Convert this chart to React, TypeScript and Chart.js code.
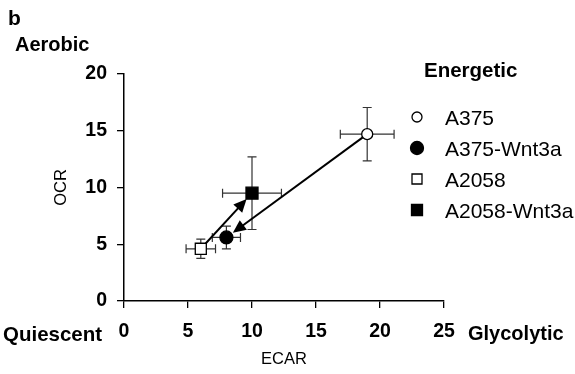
import React, { useEffect, useRef } from "react";
import { Chart, registerables } from "chart.js";

Chart.register(...registerables);

const categories = ["A375", "A375-Wnt3a", "A2058", "A2058-Wnt3a"];
const ecar = [19.0, 8.0, 6.0, 10.0];
const ocr = [14.7, 5.6, 4.6, 9.5];
const ecarErr = [2.1, 1.1, 1.15, 2.3];
const ocrErr = [2.35, 1.0, 0.85, 3.2];
const filled = [false, true, false, true];
const shapes = ["circle", "circle", "rect", "rect"];
const arrows: [number, number][] = [
  [2, 3],
  [0, 1],
];
const xTicks = [0, 5, 10, 15, 20, 25];
const yTicks = [0, 5, 10, 15, 20];
const panelLetter = "b";
const legendTitle = "Energetic";
const cornerTop = "Aerobic";
const cornerLeft = "Quiescent";
const cornerRight = "Glycolytic";
const xTitle = "ECAR";
const yTitle = "OCR";

const FONT = "'Liberation Sans', Arial, Helvetica, sans-serif";

const overlay = {
  id: "overlay",
  beforeDatasetsDraw(chart: any) {
    const ctx = chart.ctx;
    const xs = chart.scales.x;
    const ys = chart.scales.y;
    ctx.save();
    // error bars
    ctx.strokeStyle = "#333";
    ctx.lineWidth = 1.2;
    const cap = 4.5;
    for (let i = 0; i < categories.length; i++) {
      const cx = xs.getPixelForValue(ecar[i]);
      const cy = ys.getPixelForValue(ocr[i]);
      const x1 = xs.getPixelForValue(ecar[i] - ecarErr[i]);
      const x2 = xs.getPixelForValue(ecar[i] + ecarErr[i]);
      const y1 = ys.getPixelForValue(ocr[i] + ocrErr[i]);
      const y2 = ys.getPixelForValue(ocr[i] - ocrErr[i]);
      ctx.beginPath();
      ctx.moveTo(x1, cy);
      ctx.lineTo(x2, cy);
      ctx.moveTo(x1, cy - cap);
      ctx.lineTo(x1, cy + cap);
      ctx.moveTo(x2, cy - cap);
      ctx.lineTo(x2, cy + cap);
      ctx.moveTo(cx, y1);
      ctx.lineTo(cx, y2);
      ctx.moveTo(cx - cap, y1);
      ctx.lineTo(cx + cap, y1);
      ctx.moveTo(cx - cap, y2);
      ctx.lineTo(cx + cap, y2);
      ctx.stroke();
    }
    // arrows
    ctx.strokeStyle = "#000";
    ctx.fillStyle = "#000";
    ctx.lineWidth = 2;
    for (const [a, b] of arrows) {
      const ax = xs.getPixelForValue(ecar[a]);
      const ay = ys.getPixelForValue(ocr[a]);
      const bx = xs.getPixelForValue(ecar[b]);
      const by = ys.getPixelForValue(ocr[b]);
      const dx = bx - ax;
      const dy = by - ay;
      const len = Math.hypot(dx, dy);
      const ux = dx / len;
      const uy = dy / len;
      const tipX = bx - ux * 8;
      const tipY = by - uy * 8;
      const hl = 13;
      const hw = 6;
      const baseX = tipX - ux * hl;
      const baseY = tipY - uy * hl;
      ctx.beginPath();
      ctx.moveTo(ax, ay);
      ctx.lineTo(baseX + ux * 2, baseY + uy * 2);
      ctx.stroke();
      ctx.beginPath();
      ctx.moveTo(tipX, tipY);
      ctx.lineTo(baseX - uy * hw, baseY + ux * hw);
      ctx.lineTo(baseX + uy * hw, baseY - ux * hw);
      ctx.closePath();
      ctx.fill();
    }
    ctx.restore();
  },
  afterDraw(chart: any) {
    const ctx = chart.ctx;
    ctx.save();
    ctx.fillStyle = "#000";
    ctx.textBaseline = "alphabetic";
    ctx.textAlign = "left";
    ctx.font = `bold 21px ${FONT}`;
    ctx.fillText(panelLetter, 8, 25);
    ctx.font = `bold 20px ${FONT}`;
    ctx.fillText(cornerTop, 15, 51);
    ctx.font = `bold 20.5px ${FONT}`;
    ctx.fillText(cornerLeft, 3, 341);
    ctx.font = `bold 20px ${FONT}`;
    ctx.fillText(cornerRight, 468, 340);
    ctx.font = `bold 20.5px ${FONT}`;
    ctx.fillText(legendTitle, 424, 77);

    // legend
    const rows = [124.5, 155.5, 186.5, 217.5];
    const mx = 417;
    ctx.font = `21px ${FONT}`;
    for (let i = 0; i < categories.length; i++) {
      const cy = rows[i] - 7.5;
      ctx.lineWidth = 1.3;
      ctx.strokeStyle = "#000";
      ctx.fillStyle = filled[i] ? "#000" : "#fff";
      ctx.beginPath();
      if (shapes[i] === "circle") {
        const r = filled[i] ? 6.5 : 5;
        ctx.arc(mx, cy, r, 0, Math.PI * 2);
      } else {
        const s = filled[i] ? 11 : 10;
        ctx.rect(mx - s / 2, cy - s / 2, s, s);
      }
      ctx.fill();
      ctx.stroke();
      ctx.fillStyle = "#000";
      ctx.fillText(categories[i], 445, rows[i]);
    }
    ctx.restore();
  },
};

export default function App() {
  const ref = useRef<HTMLCanvasElement | null>(null);
  useEffect(() => {
    if (!ref.current) return;
    const datasets = categories.map((label, i) => ({
      label,
      data: [{ x: ecar[i], y: ocr[i] }],
      pointStyle: shapes[i],
      pointRadius: shapes[i] === "circle" ? (filled[i] ? 6.5 : 5.5) : filled[i] ? 8.5 : 7.8,
      pointBackgroundColor: filled[i] ? "#000" : "#fff",
      pointBorderColor: "#000",
      pointBorderWidth: 1.3,
      showLine: false,
    }));
    const chart = new Chart(ref.current, {
      type: "scatter",
      data: { datasets },
      options: {
        animation: false,
        responsive: false,
        layout: { padding: { left: 0, right: 131, top: 74, bottom: 0 } },
        plugins: { legend: { display: false }, tooltip: { enabled: false } },
        font: { family: FONT },
        scales: {
          x: {
            type: "linear",
            min: xTicks[0],
            max: xTicks[xTicks.length - 1],
            afterBuildTicks: (s: any) => {
              s.ticks = xTicks.map((v) => ({ value: v }));
            },
            afterFit: (s: any) => {
              s.height = 73;
            },
            grid: {
              drawOnChartArea: false,
              drawTicks: true,
              tickLength: 7,
              color: "#000",
              lineWidth: 1.3,
            },
            border: { display: true, color: "#000", width: 1.5 },
            ticks: {
              color: "#000",
              padding: 12,
              font: { family: FONT, size: 19.5, weight: "bold" },
            },
            title: {
              display: true,
              text: xTitle,
              color: "#000",
              font: { family: FONT, size: 16.5 },
              padding: { top: 0, bottom: 5 },
            },
          },
          y: {
            type: "linear",
            min: yTicks[0],
            max: yTicks[yTicks.length - 1],
            afterBuildTicks: (s: any) => {
              s.ticks = yTicks.map((v) => ({ value: v }));
            },
            afterFit: (s: any) => {
              s.width = 124;
            },
            grid: {
              drawOnChartArea: false,
              drawTicks: true,
              tickLength: 7,
              color: "#000",
              lineWidth: 1.3,
            },
            border: { display: true, color: "#000", width: 1.5 },
            ticks: {
              color: "#000",
              padding: 10,
              font: { family: FONT, size: 19.5, weight: "bold" },
            },
            title: {
              display: true,
              text: yTitle,
              color: "#000",
              font: { family: FONT, size: 16.5 },
              padding: { top: 52, bottom: 0 },
            },
          },
        },
      } as any,
      plugins: [overlay],
    });
    return () => chart.destroy();
  }, []);
  return (
    <div style={{ position: "fixed", left: 0, top: 0, width: 575, height: 374, background: "#fff" }}>
      <canvas ref={ref} width={575} height={374} style={{ display: "block" }} />
    </div>
  );
}
